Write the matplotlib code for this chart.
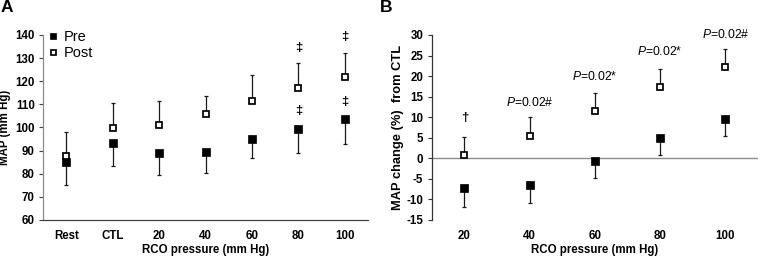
import matplotlib
matplotlib.use("Agg")
import matplotlib.pyplot as plt
import numpy as np

plt.rcParams['font.family'] = ['Liberation Sans', 'DejaVu Sans']
plt.rcParams['mathtext.fontset'] = 'custom'
plt.rcParams['mathtext.it'] = 'Liberation Sans:italic'
plt.rcParams['mathtext.rm'] = 'Liberation Sans'

# ---- Panel A data ----
cats_a = ["Rest", "CTL", "20", "40", "60", "80", "100"]
pre_a = [85.2, 93.2, 88.8, 89.5, 94.9, 99.4, 103.5]
pre_a_sd = [10.1, 9.7, 9.3, 9.0, 7.9, 10.6, 10.6]
post_a = [87.7, 99.6, 101.1, 105.7, 111.5, 117.2, 122.0]
post_a_sd = [10.5, 10.9, 10.4, 7.9, 11.2, 10.8, 10.4]
marks_a_idx = [5, 5, 6, 6]
marks_a_y = [134.2, 107.1, 139.3, 111.2]
marks_a_txt = ["‡", "‡", "‡", "‡"]

# ---- Panel B data ----
cats_b = ["20", "40", "60", "80", "100"]
pre_b = [-7.3, -6.5, -0.6, 4.9, 9.6]
pre_b_sd = [4.5, 4.3, 4.3, 4.2, 4.2]
post_b = [0.8, 5.5, 11.5, 17.3, 22.1]
post_b_sd = [4.3, 4.6, 4.3, 4.4, 4.4]
marks_b_idx = [0, 1, 2, 3, 4]
marks_b_y = [9.9, 13.6, 19.9, 25.9, 30.2]
marks_b_txt = ["†", r"$\it{P}$=0.02#", r"$\it{P}$=0.02*", r"$\it{P}$=0.02*", r"$\it{P}$=0.02#"]

fig = plt.figure(figsize=(7.6, 2.58), dpi=100)
axA = fig.add_axes([43/760, 38/258, 325/760, 185/258])
axB = fig.add_axes([431.7/760, 38/258, 326.3/760, 185/258])

ecol = '#1a1a1a'
tfs = 8.3

def draw(ax, cats, pre, pre_sd, post, post_sd):
    x = np.arange(len(cats))
    ax.errorbar(x, pre, yerr=[pre_sd, np.zeros(len(x))], fmt='none',
                ecolor=ecol, elinewidth=0.9, capsize=1.6, capthick=0.9, zorder=2)
    ax.errorbar(x, post, yerr=[np.zeros(len(x)), post_sd], fmt='none',
                ecolor=ecol, elinewidth=0.9, capsize=1.6, capthick=0.9, zorder=2)
    ax.plot(x, pre, 's', ms=5.2, mfc='black', mec='black', mew=0.5, zorder=4, label='Pre')
    ax.plot(x, post, 's', ms=4.5, mfc='white', mec='black', mew=1.25, zorder=4, label='Post')
    ax.set_xlim(-0.5, len(cats) - 0.5)
    ax.set_xticks(x)
    ax.set_xticklabels(cats, fontweight='bold', fontsize=tfs)
    ax.spines['top'].set_visible(False)
    ax.spines['right'].set_visible(False)
    return x

# Panel A
xa = draw(axA, cats_a, pre_a, pre_a_sd, post_a, post_a_sd)
axA.set_ylim(60, 140)
axA.set_yticks(np.arange(60, 141, 10))
axA.set_yticklabels([str(v) for v in range(60, 141, 10)], fontweight='bold', fontsize=tfs)
axA.spines['left'].set_color('#8c8c8c')
axA.spines['bottom'].set_color('#404040')
axA.spines['left'].set_linewidth(0.9)
axA.spines['bottom'].set_linewidth(0.9)
axA.tick_params(axis='y', length=3, width=0.8, color='#404040', pad=3)
axA.tick_params(axis='x', length=0, pad=7)
axA.set_xlabel("RCO pressure (mm Hg)", fontsize=8.3, fontweight='bold', labelpad=2)
axA.set_ylabel("MAP (mm Hg)", fontsize=8.3, fontweight='bold', labelpad=3)
for i, yv, t in zip(marks_a_idx, marks_a_y, marks_a_txt):
    axA.text(xa[i], yv, t, ha='center', va='center', fontsize=9.5, fontweight='bold')
leg = axA.legend(loc='upper left', bbox_to_anchor=(0.0, 1.06), frameon=False,
                 fontsize=10.5, handlelength=0.6, handletextpad=0.4,
                 borderaxespad=0.0, labelspacing=0.15, markerscale=0.8)

# Panel B
xb = draw(axB, cats_b, pre_b, pre_b_sd, post_b, post_b_sd)
axB.set_ylim(-15, 30)
axB.set_yticks(np.arange(-15, 31, 5))
axB.set_yticklabels([str(v) for v in range(-15, 31, 5)], fontweight='bold', fontsize=tfs)
axB.spines['bottom'].set_visible(False)
axB.spines['left'].set_color('#333333')
axB.spines['left'].set_linewidth(0.9)
axB.axhline(0, color='#8c8c8c', lw=1.0, zorder=1)
axB.tick_params(axis='y', length=3, width=0.8, color='#333333', pad=3)
axB.tick_params(axis='x', length=0, pad=7)
axB.set_xlabel("RCO pressure (mm Hg)", fontsize=8.3, fontweight='bold', labelpad=2)
axB.set_ylabel("MAP change (%)  from CTL", fontsize=9.3, fontweight='bold', labelpad=2)
for i, yv, t in zip(marks_b_idx, marks_b_y, marks_b_txt):
    fw = 'bold' if t == "†" else 'normal'
    fs = 9.5 if t == "†" else 8.7
    axB.text(xb[i], yv, t, ha='center', va='center', fontsize=fs, fontweight=fw, clip_on=False)

fig.text(1/760, 1 - 8/258, "A", fontsize=12.5, fontweight='bold', va='center', ha='left')
fig.text(380/760, 1 - 8/258, "B", fontsize=12.5, fontweight='bold', va='center', ha='left')

fig.savefig("out.png", dpi=100)
